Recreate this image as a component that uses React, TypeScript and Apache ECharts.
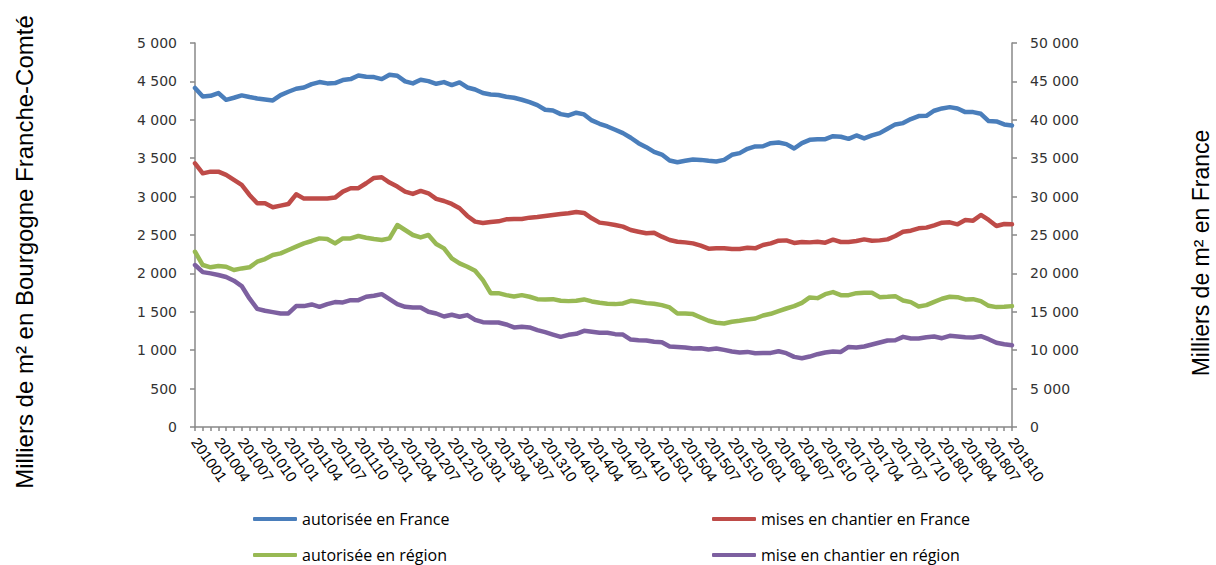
import React, { useEffect, useRef } from "react";
import * as echarts from "echarts";

// Months 201001 .. 201810
const START_YEAR = 2010;
const MONTH_COUNT = 106;
const categories: string[] = [];
for (let k = 0; k < MONTH_COUNT; k++) {
  const y = START_YEAR + Math.floor(k / 12);
  const m = (k % 12) + 1;
  categories.push(`${y}${m < 10 ? "0" + m : m}`);
}

const seriesNames = [
  "autorisée en France",
  "mises en chantier en France",
  "autorisée en région",
  "mise en chantier en région",
];

// Milliers de m² en France (right axis)
const autoriseeFrance = [
  44140, 43030, 43120, 43480, 42600, 42870, 43180, 42960, 42780, 42650,
  42520, 43220, 43650, 44040, 44210, 44650, 44910, 44740, 44780, 45170,
  45300, 45780, 45610, 45560, 45300, 45870, 45740, 45000, 44740, 45220,
  45040, 44690, 44910, 44520, 44870, 44210, 43950, 43480, 43300, 43220,
  43000, 42870, 42610, 42310, 41920, 41310, 41220, 40740, 40570, 40920,
  40700, 39920, 39480, 39130, 38700, 38260, 37660, 36960, 36440, 35830,
  35480, 34700, 34480, 34660, 34830, 34780, 34660, 34570, 34780, 35440,
  35660, 36220, 36530, 36560, 36960, 37050, 36830, 36260, 36960, 37390,
  37480, 37480, 37870, 37790, 37520, 37960, 37570, 37960, 38260, 38830,
  39400, 39570, 40090, 40480, 40520, 41180, 41480, 41650, 41480, 41000,
  41000, 40780, 39830, 39790, 39400, 39260,
];
const chantierFrance = [
  34330, 33030, 33250, 33250, 32820, 32170, 31520, 30220, 29130, 29130,
  28610, 28830, 29040, 30300, 29740, 29740, 29740, 29740, 29870, 30650,
  31090, 31090, 31740, 32430, 32520, 31830, 31300, 30650, 30350, 30740,
  30430, 29700, 29430, 29040, 28480, 27480, 26740, 26560, 26700, 26780,
  27040, 27090, 27090, 27260, 27350, 27480, 27610, 27740, 27830, 28000,
  27870, 27170, 26610, 26480, 26300, 26090, 25650, 25430, 25220, 25300,
  24780, 24350, 24130, 24040, 23910, 23610, 23220, 23260, 23260, 23170,
  23170, 23350, 23260, 23700, 23910, 24260, 24300, 23960, 24090, 24040,
  24130, 24000, 24390, 24090, 24090, 24220, 24430, 24260, 24300, 24430,
  24870, 25430, 25560, 25870, 25960, 26260, 26610, 26650, 26390, 26960,
  26870, 27610, 26960, 26170, 26430, 26390,
];
// Milliers de m² en Bourgogne Franche-Comté (left axis)
const autoriseeRegion = [
  2282, 2109, 2079, 2096, 2087, 2044, 2065, 2079, 2152, 2187,
  2239, 2261, 2304, 2348, 2391, 2422, 2456, 2448, 2391, 2456,
  2456, 2487, 2465, 2448, 2435, 2456, 2630, 2565, 2500, 2469,
  2500, 2382, 2326, 2196, 2130, 2087, 2035, 1913, 1743, 1743,
  1717, 1700, 1717, 1696, 1665, 1661, 1665, 1643, 1639, 1643,
  1661, 1635, 1617, 1604, 1600, 1609, 1643, 1630, 1613, 1604,
  1587, 1557, 1478, 1478, 1470, 1426, 1383, 1357, 1348, 1370,
  1383, 1400, 1413, 1452, 1474, 1509, 1543, 1574, 1617, 1687,
  1678, 1730, 1757, 1717, 1717, 1743, 1748, 1748, 1691, 1696,
  1704, 1648, 1626, 1570, 1587, 1630, 1670, 1696, 1691, 1661,
  1665, 1639, 1578, 1561, 1565, 1574,
];
const chantierRegion = [
  2109, 2017, 2000, 1979, 1953, 1905, 1835, 1674, 1539, 1513,
  1496, 1478, 1478, 1574, 1574, 1596, 1565, 1600, 1626, 1622,
  1652, 1652, 1696, 1709, 1730, 1665, 1600, 1565, 1557, 1557,
  1500, 1478, 1439, 1461, 1435, 1457, 1395, 1365, 1361, 1361,
  1335, 1296, 1304, 1296, 1261, 1235, 1204, 1174, 1200, 1213,
  1252, 1239, 1226, 1226, 1209, 1204, 1139, 1130, 1126, 1109,
  1104, 1048, 1043, 1035, 1022, 1026, 1009, 1022, 1004, 983,
  970, 978, 961, 963, 965, 987, 961, 913, 896, 917,
  948, 970, 983, 978, 1043, 1035, 1048, 1074, 1100, 1126,
  1130, 1174, 1152, 1152, 1169, 1178, 1156, 1187, 1178, 1169,
  1165, 1182, 1143, 1096, 1078, 1065,
];

const leftTitle = "Milliers de m² en Bourgogne Franche-Comté";
const rightTitle = "Milliers de m² en France";

const colors = ["#4A7EBB", "#BE4B48", "#98B954", "#7D60A0"];

const fmt = (v: number) =>
  String(v).replace(/\B(?=(\d{3})+(?!\d))/g, " ");

export default function App() {
  const ref = useRef<HTMLDivElement>(null);
  useEffect(() => {
    document.body.style.margin = "0";
    const chart = echarts.init(ref.current!, undefined, { renderer: "svg" });
    const axisLineStyle = { color: "#888888", width: 1.5 };
    const yLabel = {
      fontFamily: "DejaVu Sans",
      fontSize: 14,
      color: "#333333",
      margin: 18,
      formatter: (v: number) => fmt(v),
    };
    const legendText = {
      fontFamily: "Open Sans",
      fontSize: 16,
      color: "#000000",
    };
    const mkLegend = (name: string, left: number, top: number) => ({
      data: [name],
      left,
      top,
      padding: 0,
      icon: "roundRect",
      itemWidth: 44,
      itemHeight: 4,
      itemGap: 0,
      textStyle: legendText,
      selectedMode: false,
    });
    const data = [autoriseeFrance, chantierFrance, autoriseeRegion, chantierRegion];
    chart.setOption({
      animation: false,
      backgroundColor: "#ffffff",
      color: colors,
      grid: { left: 195, top: 43, width: 817, height: 384 },
      legend: [
        mkLegend(seriesNames[0], 253, 511),
        mkLegend(seriesNames[1], 712, 511),
        mkLegend(seriesNames[2], 253, 547),
        mkLegend(seriesNames[3], 712, 547),
      ],
      xAxis: {
        type: "category",
        data: categories,
        boundaryGap: false,
        axisLine: { lineStyle: axisLineStyle },
        axisTick: { show: true, interval: 0, length: 4, lineStyle: axisLineStyle },
        axisLabel: {
          interval: 2,
          rotate: -55,
          margin: 12,
          fontFamily: "Liberation Sans",
          fontSize: 15,
          color: "#000000",
        },
        splitLine: { show: false },
      },
      yAxis: [
        {
          type: "value",
          min: 0,
          max: 5000,
          interval: 500,
          position: "left",
          axisLine: { show: true, lineStyle: axisLineStyle },
          axisTick: { show: true, length: 5, lineStyle: axisLineStyle },
          axisLabel: yLabel,
          splitLine: { show: false },
        },
        {
          type: "value",
          min: 0,
          max: 50000,
          interval: 5000,
          position: "right",
          axisLine: { show: true, lineStyle: axisLineStyle },
          axisTick: { show: true, length: 5, lineStyle: axisLineStyle },
          axisLabel: yLabel,
          splitLine: { show: false },
        },
      ],
      series: seriesNames.map((name, i) => ({
        name,
        type: "line",
        yAxisIndex: i < 2 ? 1 : 0,
        data: data[i],
        symbol: "none",
        lineStyle: { width: 4.5, color: colors[i], join: "round", cap: "round" },
        itemStyle: { color: colors[i] },
      })),
      graphic: [
        {
          type: "text",
          x: 24,
          y: 252,
          rotation: Math.PI / 2,
          style: {
            text: leftTitle,
            fontFamily: "Liberation Sans",
            fontSize: 24,
            fill: "#000000",
            textAlign: "center",
            textVerticalAlign: "middle",
          },
        },
        {
          type: "text",
          x: 1201,
          y: 253,
          rotation: Math.PI / 2,
          style: {
            text: rightTitle,
            fontFamily: "Liberation Sans",
            fontSize: 23,
            fill: "#000000",
            textAlign: "center",
            textVerticalAlign: "middle",
          },
        },
      ],
    });
    return () => chart.dispose();
  }, []);
  return (
    <div
      ref={ref}
      style={{ position: "absolute", left: 0, top: 0, width: 1216, height: 565 }}
    />
  );
}
